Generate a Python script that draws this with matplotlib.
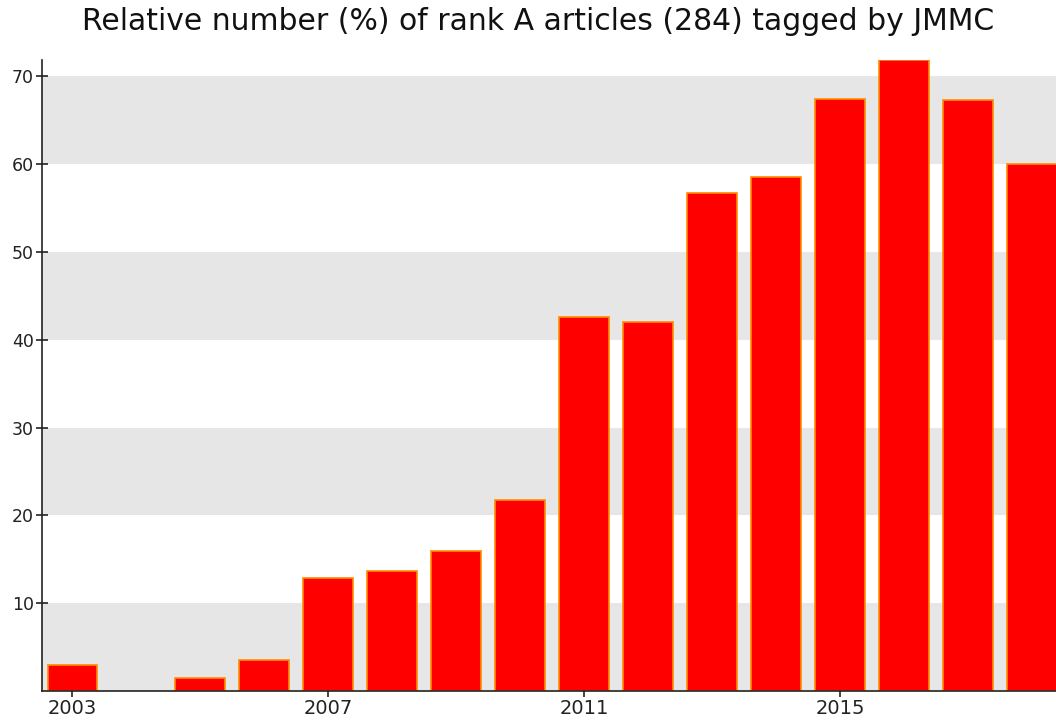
import numpy as np
import matplotlib
matplotlib.use("Agg")
import matplotlib.pyplot as plt

years = [2003, 2004, 2005, 2006, 2007, 2008, 2009, 2010,
         2011, 2012, 2013, 2014, 2015, 2016, 2017, 2018]
percent = [2.93, 0.0, 1.48, 3.57, 12.87, 13.67, 15.98, 21.75,
           42.63, 42.03, 56.69, 58.58, 67.46, 71.87, 67.28, 60.02]
tick_years = [2003, 2007, 2011, 2015]
title = "Relative number (%) of rank A articles (284) tagged by JMMC"

fig = plt.figure(figsize=(10.56, 7.2), dpi=100)
ax = fig.add_axes([41.5/1056, 1 - 691/720, 1 - 41.5/1056, (691 - 60)/720])

# alternating grey bands behind the bars
for lo in range(0, 70, 20):
    ax.axhspan(lo, lo + 10, color="#e6e6e6", lw=0, zorder=0)

# years with no value get no bar (avoids a stray edge line on the axis)
x_vals = [y for y, p in zip(years, percent) if p > 0]
h_vals = [p for p in percent if p > 0]
ax.bar(x_vals, h_vals, width=0.78, color="#ff0000", edgecolor="#ff8c00",
       linewidth=1.2, zorder=2)

ax.set_xlim(2002.516, 2018.37)
ax.set_ylim(0, max(percent))
ax.set_xticks(tick_years)
ax.set_yticks(np.arange(10, 71, 10))
ax.tick_params(direction="inout", length=9, width=1.2, colors="#222222")
ax.tick_params(axis="x", pad=1, labelsize=14)
ax.tick_params(axis="y", pad=1, labelsize=12.5)
for s in ["top", "right"]:
    ax.spines[s].set_visible(False)
for s in ["left", "bottom"]:
    ax.spines[s].set_linewidth(1.2)
    ax.spines[s].set_color("#222222")
    ax.spines[s].set_zorder(3)

fig.text(538/1056, 1 - 22/720, title, ha="center", va="center",
         fontsize=21.5, color="#111111")

fig.savefig("out.png", dpi=100)
